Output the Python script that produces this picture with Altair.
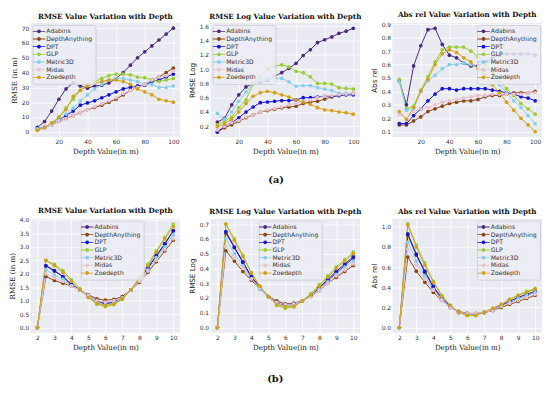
import altair as alt
import pandas as pd

models = ["Adabins", "DepthAnything", "DPT", "GLP", "Metric3D", "Midas", "Zoedepth"]
colors = ["#4B2A7B", "#8B4513", "#1414D2", "#9ACD32", "#87CEEB", "#E8C4CC", "#D4A017"]

# ---- top row (a): depth 5..100 m ----
depth_far = [5, 10, 15, 20, 25, 30, 35, 40, 45, 50, 55, 60, 65, 70, 75, 80, 85, 90, 95, 100]

rmse_far = {
    "Adabins":       [3, 7, 14, 22, 29, 33, 31, 29.5, 31, 31.5, 33, 36, 40, 45, 50, 54, 58, 62, 66, 70],
    "DepthAnything": [1, 3, 5, 7, 9, 11, 13, 15, 16.5, 18, 20, 22, 25, 28, 30, 32, 35, 37, 40, 43],
    "DPT":           [2, 3, 5, 8, 11, 14, 18, 19.5, 21, 23, 25, 27, 29, 30, 31, 31.5, 34, 35, 37, 39],
    "GLP":           [1, 3, 5, 10, 16, 22, 28, 32, 34, 36, 38, 39, 39, 38.5, 37, 36.5, 35, 34, 35, 36],
    "Metric3D":      [2, 3, 5, 8, 12, 16, 21, 25, 29, 32, 35, 36, 36, 35, 34, 32, 32, 30, 30, 31],
    "Midas":         [1, 3, 5, 7, 9, 11, 13, 15, 17, 19, 21, 23, 26, 28, 30, 32, 35, 37, 38, 41],
    "Zoedepth":      [1, 3, 6, 10, 15, 24, 28, 31, 33, 34, 35, 35, 34, 32, 29, 27, 25, 22, 21, 20],
}
rmselog_far = {
    "Adabins":       [0.26, 0.31, 0.50, 0.64, 0.75, 0.80, 0.81, 0.84, 0.90, 0.95, 1.01, 1.08, 1.19, 1.27, 1.37, 1.41, 1.45, 1.50, 1.53, 1.57],
    "DepthAnything": [0.12, 0.18, 0.22, 0.27, 0.32, 0.36, 0.40, 0.42, 0.44, 0.46, 0.47, 0.48, 0.52, 0.54, 0.55, 0.58, 0.61, 0.63, 0.65, 0.66],
    "DPT":           [0.12, 0.20, 0.25, 0.32, 0.40, 0.47, 0.53, 0.54, 0.55, 0.56, 0.56, 0.57, 0.60, 0.60, 0.61, 0.62, 0.62, 0.63, 0.64, 0.64],
    "GLP":           [0.22, 0.27, 0.33, 0.46, 0.57, 0.80, 0.90, 1.00, 1.04, 1.06, 1.03, 0.97, 0.95, 0.89, 0.80, 0.80, 0.79, 0.74, 0.73, 0.72],
    "Metric3D":      [0.38, 0.30, 0.40, 0.55, 0.68, 0.80, 0.85, 0.87, 0.87, 0.87, 0.82, 0.76, 0.77, 0.77, 0.74, 0.72, 0.70, 0.66, 0.66, 0.66],
    "Midas":         [0.15, 0.20, 0.25, 0.28, 0.33, 0.36, 0.40, 0.43, 0.45, 0.47, 0.50, 0.52, 0.55, 0.57, 0.60, 0.62, 0.63, 0.64, 0.65, 0.66],
    "Zoedepth":      [0.20, 0.23, 0.30, 0.40, 0.52, 0.62, 0.67, 0.69, 0.67, 0.64, 0.61, 0.57, 0.54, 0.51, 0.46, 0.43, 0.42, 0.40, 0.39, 0.37],
}
absrel_far = {
    "Adabins":       [0.48, 0.30, 0.59, 0.74, 0.86, 0.87, 0.75, 0.67, 0.65, 0.61, 0.59, 0.59, 0.62, 0.65, 0.67, 0.68, 0.68, 0.68, 0.68, 0.67],
    "DepthAnything": [0.15, 0.15, 0.18, 0.21, 0.25, 0.27, 0.29, 0.31, 0.32, 0.33, 0.33, 0.34, 0.36, 0.37, 0.37, 0.38, 0.39, 0.39, 0.39, 0.40],
    "DPT":           [0.16, 0.16, 0.22, 0.27, 0.33, 0.38, 0.42, 0.42, 0.41, 0.42, 0.42, 0.42, 0.42, 0.41, 0.40, 0.39, 0.38, 0.36, 0.35, 0.33],
    "GLP":           [0.49, 0.27, 0.29, 0.41, 0.51, 0.62, 0.71, 0.73, 0.73, 0.73, 0.70, 0.66, 0.60, 0.54, 0.47, 0.42, 0.37, 0.31, 0.27, 0.23],
    "Metric3D":      [0.47, 0.26, 0.27, 0.40, 0.48, 0.52, 0.57, 0.60, 0.60, 0.61, 0.60, 0.58, 0.55, 0.51, 0.45, 0.39, 0.33, 0.28, 0.22, 0.16],
    "Midas":         [0.23, 0.20, 0.25, 0.27, 0.28, 0.30, 0.32, 0.33, 0.34, 0.35, 0.36, 0.37, 0.37, 0.38, 0.38, 0.38, 0.38, 0.38, 0.39, 0.39],
    "Zoedepth":      [0.25, 0.19, 0.28, 0.40, 0.49, 0.60, 0.68, 0.71, 0.69, 0.65, 0.62, 0.57, 0.52, 0.45, 0.39, 0.32, 0.26, 0.20, 0.15, 0.10],
}

# ---- bottom row (b): depth 2..10 m ----
depth_near = [2, 2.5, 3, 3.5, 4, 4.5, 5, 5.5, 6, 6.5, 7, 7.5, 8, 8.5, 9, 9.5, 10]

rmse_near = {
    "Adabins":       [0, 2.30, 2.10, 1.90, 1.60, 1.40, 1.20, 1.00, 0.90, 0.95, 1.15, 1.40, 1.75, 2.20, 2.65, 3.10, 3.60],
    "DepthAnything": [0, 1.90, 1.75, 1.65, 1.55, 1.40, 1.22, 1.07, 1.02, 1.05, 1.15, 1.40, 1.68, 2.05, 2.45, 2.85, 3.25],
    "DPT":           [0, 2.30, 2.12, 1.90, 1.60, 1.40, 1.18, 0.95, 0.88, 0.92, 1.12, 1.40, 1.78, 2.22, 2.68, 3.12, 3.60],
    "GLP":           [0, 2.50, 2.35, 2.12, 1.78, 1.45, 1.12, 0.87, 0.78, 0.85, 1.05, 1.40, 1.85, 2.35, 2.85, 3.35, 3.85],
    "Metric3D":      [0, 2.15, 1.95, 1.80, 1.55, 1.40, 1.18, 0.95, 0.85, 0.92, 1.10, 1.40, 1.75, 2.15, 2.60, 3.00, 3.45],
    "Midas":         [0, 2.00, 1.85, 1.72, 1.55, 1.40, 1.20, 1.00, 0.95, 1.00, 1.12, 1.40, 1.72, 2.10, 2.50, 2.90, 3.30],
    "Zoedepth":      [0, 2.50, 2.30, 2.05, 1.72, 1.42, 1.12, 0.90, 0.82, 0.88, 1.08, 1.40, 1.85, 2.30, 2.80, 3.30, 3.75],
}
rmselog_near = {
    "Adabins":       [0, 0.64, 0.54, 0.44, 0.34, 0.27, 0.21, 0.17, 0.150, 0.160, 0.18, 0.22, 0.27, 0.320, 0.37, 0.42, 0.47],
    "DepthAnything": [0, 0.52, 0.45, 0.38, 0.32, 0.26, 0.21, 0.18, 0.160, 0.165, 0.18, 0.21, 0.25, 0.300, 0.34, 0.38, 0.42],
    "DPT":           [0, 0.65, 0.545, 0.445, 0.345, 0.275, 0.21, 0.17, 0.155, 0.160, 0.18, 0.22, 0.27, 0.325, 0.38, 0.43, 0.48],
    "GLP":           [0, 0.70, 0.60, 0.49, 0.37, 0.28, 0.21, 0.15, 0.130, 0.140, 0.18, 0.23, 0.29, 0.350, 0.41, 0.46, 0.51],
    "Metric3D":      [0, 0.60, 0.50, 0.42, 0.33, 0.26, 0.21, 0.16, 0.145, 0.155, 0.18, 0.21, 0.26, 0.310, 0.36, 0.41, 0.45],
    "Midas":         [0, 0.55, 0.47, 0.40, 0.33, 0.27, 0.21, 0.17, 0.155, 0.160, 0.18, 0.21, 0.25, 0.300, 0.35, 0.39, 0.43],
    "Zoedepth":      [0, 0.70, 0.59, 0.48, 0.37, 0.28, 0.21, 0.155, 0.140, 0.145, 0.18, 0.22, 0.28, 0.340, 0.40, 0.45, 0.50],
}
absrel_near = {
    "Adabins":       [0, 0.92, 0.72, 0.55, 0.40, 0.28, 0.20, 0.15, 0.14, 0.13, 0.15, 0.17, 0.21, 0.25, 0.29, 0.32, 0.35],
    "DepthAnything": [0, 0.70, 0.56, 0.45, 0.35, 0.27, 0.20, 0.16, 0.14, 0.14, 0.15, 0.17, 0.20, 0.23, 0.26, 0.29, 0.32],
    "DPT":           [0, 0.93, 0.73, 0.56, 0.41, 0.29, 0.21, 0.15, 0.13, 0.13, 0.15, 0.18, 0.22, 0.26, 0.30, 0.33, 0.36],
    "GLP":           [0, 1.03, 0.82, 0.64, 0.46, 0.32, 0.22, 0.15, 0.12, 0.12, 0.15, 0.19, 0.23, 0.28, 0.32, 0.36, 0.39],
    "Metric3D":      [0, 0.85, 0.66, 0.51, 0.38, 0.28, 0.20, 0.15, 0.13, 0.13, 0.15, 0.18, 0.21, 0.25, 0.29, 0.32, 0.35],
    "Midas":         [0, 0.78, 0.62, 0.48, 0.37, 0.27, 0.20, 0.15, 0.14, 0.14, 0.15, 0.17, 0.21, 0.24, 0.27, 0.30, 0.33],
    "Zoedepth":      [0, 1.02, 0.80, 0.62, 0.45, 0.31, 0.22, 0.15, 0.12, 0.12, 0.15, 0.19, 0.23, 0.28, 0.32, 0.35, 0.38],
}

xticks_far = [20, 40, 60, 80, 100]
xticks_near = [2, 3, 4, 5, 6, 7, 8, 9, 10]

W, H = 152, 116
SYMBOL = "M-2,-0.13H2V0.13H-2Z M0.62,0A0.62,0.62 0 1,1 -0.62,0A0.62,0.62 0 1,1 0.62,0Z"
cscale = alt.Scale(domain=models, range=colors)


def panel(xs, series, title, ytitle, ydom, yticks, yfmt, xdom, xticks, leg_kw, ytitle_font):
    rows = []
    for m in models:
        for xv, yv in zip(xs, series[m]):
            rows.append({"depth": xv, "value": yv, "model": m})
    df = pd.DataFrame(rows)
    base = alt.Chart(df)
    x = alt.X("depth:Q", scale=alt.Scale(domain=xdom, nice=False, zero=False),
              axis=alt.Axis(values=xticks, title="Depth Value(in m)", format="d"))
    y = alt.Y("value:Q", scale=alt.Scale(domain=ydom, nice=False, zero=False),
              axis=alt.Axis(values=yticks, format=yfmt, title=ytitle, titleFont=ytitle_font))
    legend = alt.Legend(title=None, symbolType=SYMBOL, symbolSize=40, labelFontSize=6.2,
                        labelFont="DejaVu Sans", labelColor="#333333",
                        fillColor="rgba(236,236,244,0.85)", strokeColor="#d0d0d8",
                        cornerRadius=2, padding=3, rowPadding=0.8, symbolStrokeWidth=0,
                        offset=2, **leg_kw)
    line = base.mark_line(strokeWidth=1).encode(
        x=x, y=y, stroke=alt.Stroke("model:N", scale=cscale, legend=None))
    pts = base.mark_point(filled=True, size=14, opacity=1).encode(
        x=x, y=y, color=alt.Color("model:N", scale=cscale, legend=legend))
    return alt.layer(line, pts).properties(
        width=W, height=H,
        title=alt.TitleParams(title, font="DejaVu Serif", fontWeight="bold", fontSize=7.3,
                              color="#111111", offset=3))


TL = {"orient": "top-left"}
TR = {"orient": "top-right"}

p1 = panel(depth_far, rmse_far, "RMSE Value Variation with Depth", "RMSE (in m)",
           [-3.5, 73.5], [0, 10, 20, 30, 40, 50, 60, 70], "d", [0.25, 104.75], xticks_far, TL, "DejaVu Serif")
p2 = panel(depth_far, rmselog_far, "RMSE Log Value Variation with Depth", "RMSE Log",
           [0.05, 1.645], [0.2, 0.4, 0.6, 0.8, 1.0, 1.2, 1.4, 1.6], ".1f", [0.25, 104.75], xticks_far, TL, "DejaVu Sans")
p3 = panel(depth_far, absrel_far, "Abs rel Value Variation with Depth", "Abs rel",
           [0.06, 0.91], [0.1, 0.2, 0.3, 0.4, 0.5, 0.6, 0.7, 0.8, 0.9], ".1f", [0.25, 104.75], xticks_far, TR, "DejaVu Sans")

p4 = panel(depth_near, rmse_near, "RMSE Value Variation with Depth", "RMSE (in m)",
           [-0.19, 4.05], [0, 0.5, 1.0, 1.5, 2.0, 2.5, 3.0, 3.5, 4.0], ".1f", [1.6, 10.4], xticks_near,
           {"orient": "none", "legendX": 51, "legendY": 2}, "DejaVu Serif")
p5 = panel(depth_near, rmselog_near, "RMSE Log Value Variation with Depth", "RMSE Log",
           [-0.035, 0.737], [0, 0.1, 0.2, 0.3, 0.4, 0.5, 0.6, 0.7], ".1f", [1.6, 10.4], xticks_near,
           {"orient": "none", "legendX": 49, "legendY": 2}, "DejaVu Sans")
p6 = panel(depth_near, absrel_near, "Abs rel Value Variation with Depth", "Abs rel",
           [-0.052, 1.082], [0, 0.2, 0.4, 0.6, 0.8, 1.0], ".1f", [1.6, 10.4], xticks_near, TR, "DejaVu Sans")

lab = dict(orient="bottom", anchor="middle", font="DejaVu Serif", fontWeight="bold",
           fontSize=10, color="#111111")

row_a = alt.hconcat(p1, p2, p3, spacing=8).resolve_legend(color="independent").properties(
    title=alt.TitleParams("(a)", offset=20, **lab))
row_b = alt.hconcat(p4, p5, p6, spacing=8).resolve_legend(color="independent").properties(
    title=alt.TitleParams("(b)", offset=24, **lab))

chart = alt.vconcat(row_a, row_b, spacing=22).resolve_legend(color="independent").properties(
    padding={"left": 0, "right": 0, "top": 0, "bottom": 0}
).configure_view(
    fill="#EAEAF2", stroke=None
).configure_axis(
    grid=True, gridColor="#ffffff", gridWidth=0.8, domain=False, ticks=False,
    labelFontSize=6, labelColor="#333333", labelFont="DejaVu Sans", labelPadding=2,
    titleFontSize=7.3, titleFont="DejaVu Serif", titleFontWeight="normal", titleColor="#222222",
    titlePadding=3
).configure_concat(spacing=8)

chart.save("out.html", embed_options={"renderer": "svg", "actions": False})
